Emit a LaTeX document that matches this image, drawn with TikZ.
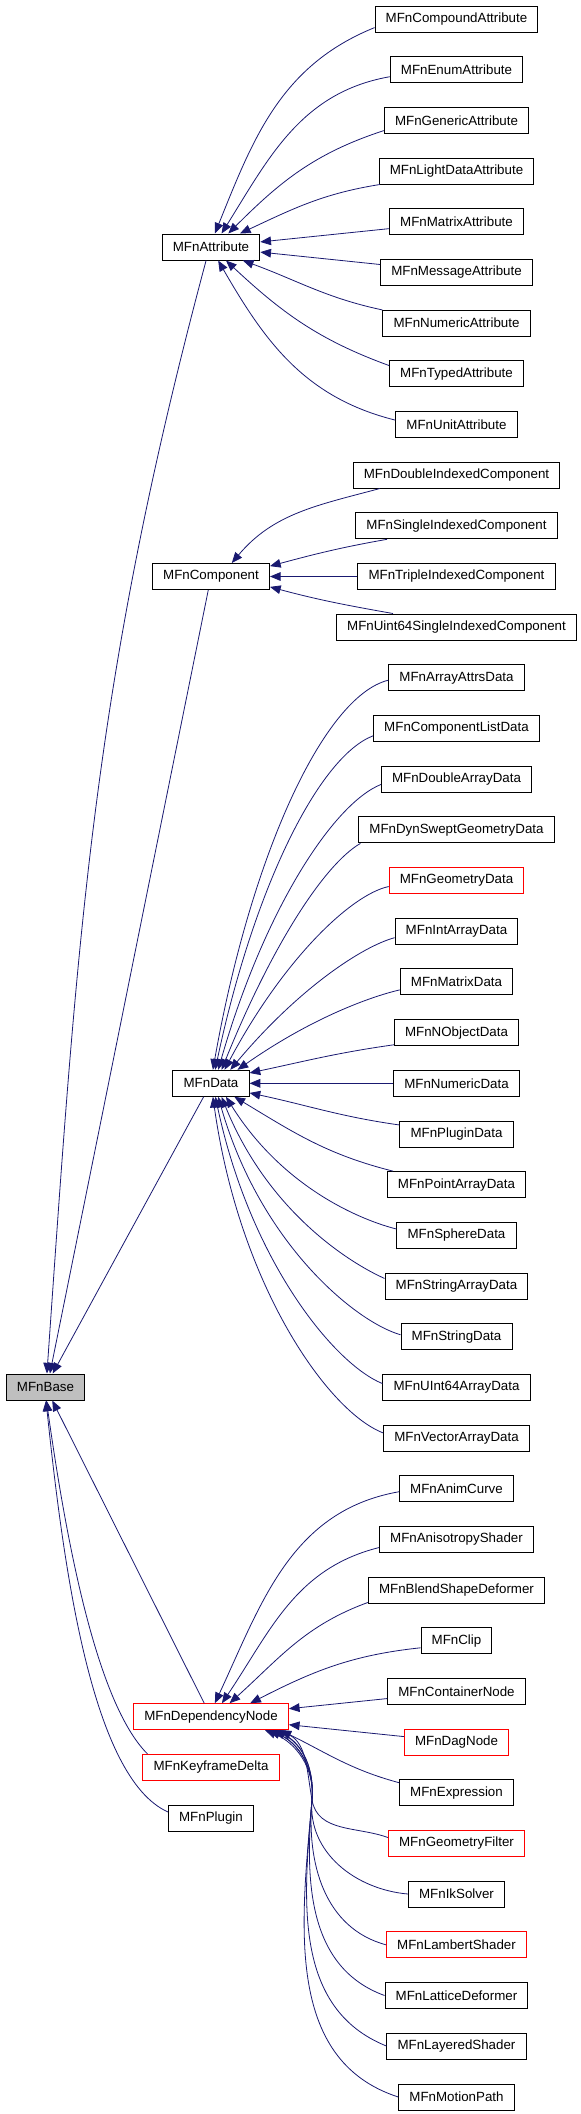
\documentclass[tikz,border=0pt]{standalone}
\usepackage{fontspec}
\setmainfont{Liberation Sans}
\usetikzlibrary{arrows.meta}
\definecolor{midnight}{HTML}{191970}

\begin{document}
\begin{tikzpicture}[x=0.75pt, y=-0.75pt,
  cls/.style={draw=black, line width=0.75pt, fill=white, minimum height=19.5pt, inner xsep=8pt, inner ysep=0pt, font=\fontsize{10pt}{12pt}\selectfont},
  clsred/.style={cls, draw=red},
  clsbase/.style={cls, fill=gray!50},
  inh/.style={draw=midnight, line width=0.6pt, -{Triangle[length=8pt, width=6.5pt]}},
  fan/.style={out looseness=0.4, in looseness=1.3}]
\node[clsbase] (base) at (45.5,1387) {MFnBase};
\node[cls] (attr) at (211,247) {MFnAttribute};
\node[cls] (comp) at (211,576.5) {MFnComponent};
\node[cls] (data) at (211,1083.3) {MFnData};
\node[clsred] (depnode) at (211,1716.7) {MFnDependencyNode};
\node[clsred] (kfdelta) at (211,1767.4) {MFnKeyframeDelta};
\node[cls] (plugin) at (211,1818) {MFnPlugin};
\node[cls] (cmpdattr) at (456.5,19) {MFnCompoundAttribute};
\node[cls] (enumattr) at (456.5,69.7) {MFnEnumAttribute};
\node[cls] (genattr) at (456.5,120.4) {MFnGenericAttribute};
\node[cls] (lightattr) at (456.5,171) {MFnLightDataAttribute};
\node[cls] (matattr) at (456.5,221.7) {MFnMatrixAttribute};
\node[cls] (msgattr) at (456.5,272.4) {MFnMessageAttribute};
\node[cls] (numattr) at (456.5,323) {MFnNumericAttribute};
\node[cls] (typedattr) at (456.5,373.8) {MFnTypedAttribute};
\node[cls] (unitattr) at (456.5,424.4) {MFnUnitAttribute};
\node[cls] (dblidx) at (456.5,475) {MFnDoubleIndexedComponent};
\node[cls] (sglidx) at (456.5,525.8) {MFnSingleIndexedComponent};
\node[cls] (triidx) at (456.5,576.5) {MFnTripleIndexedComponent};
\node[cls] (u64idx) at (456.5,627) {MFnUint64SingleIndexedComponent};
\node[cls] (arrattrs) at (456.5,677.8) {MFnArrayAttrsData};
\node[cls] (complist) at (456.5,728.5) {MFnComponentListData};
\node[cls] (dblarr) at (456.5,779.2) {MFnDoubleArrayData};
\node[cls] (dynswept) at (456.5,829.9) {MFnDynSweptGeometryData};
\node[clsred] (geodata) at (456.5,880.6) {MFnGeometryData};
\node[cls] (intarr) at (456.5,931.2) {MFnIntArrayData};
\node[cls] (matdata) at (456.5,981.9) {MFnMatrixData};
\node[cls] (nobj) at (456.5,1032.6) {MFnNObjectData};
\node[cls] (numdata) at (456.5,1083.3) {MFnNumericData};
\node[cls] (plugdata) at (456.5,1134) {MFnPluginData};
\node[cls] (ptarr) at (456.5,1184.6) {MFnPointArrayData};
\node[cls] (sphere) at (456.5,1235.3) {MFnSphereData};
\node[cls] (strarr) at (456.5,1286) {MFnStringArrayData};
\node[cls] (strdata) at (456.5,1336.7) {MFnStringData};
\node[cls] (u64arr) at (456.5,1387.4) {MFnUInt64ArrayData};
\node[cls] (vecarr) at (456.5,1438) {MFnVectorArrayData};
\node[cls] (animcurve) at (456.5,1488.7) {MFnAnimCurve};
\node[cls] (aniso) at (456.5,1539.4) {MFnAnisotropyShader};
\node[cls] (blendshape) at (456.5,1590) {MFnBlendShapeDeformer};
\node[cls] (clip) at (456.5,1640.8) {MFnClip};
\node[cls] (container) at (456.5,1691.4) {MFnContainerNode};
\node[clsred] (dagnode) at (456.5,1742) {MFnDagNode};
\node[cls] (expr) at (456.5,1792.8) {MFnExpression};
\node[clsred] (geofilter) at (456.5,1843.5) {MFnGeometryFilter};
\node[cls] (iksolver) at (456.5,1894) {MFnIkSolver};
\node[clsred] (lambert) at (456.5,1944.8) {MFnLambertShader};
\node[cls] (lattice) at (456.5,1995.5) {MFnLatticeDeformer};
\node[cls] (layered) at (456.5,2046) {MFnLayeredShader};
\node[cls] (motionpath) at (456.5,2097) {MFnMotionPath};
\coordinate (bundle) at (312,1800);
\draw[inh] (attr.-110) to[out=255, in=86] (base.84);
\draw[inh] (comp) -- (base.72);
\draw[inh] (data) -- (base.62);
\draw[inh] (depnode) -- (base);
\draw[inh] (kfdelta.168) to[out=135, in=-82, out looseness=0.5] (base.-86);
\draw[inh] (plugin.172) to[out=156, in=-84, out looseness=0.5] (base.-88);
\draw[inh] (cmpdattr.186) to[out=202, in=68] (attr.74);
\draw[inh] (enumattr.186) to[out=190, in=58] (attr.52);
\draw[inh] (genattr.188) to[out=198, in=45] (attr.38);
\draw[inh] (lightattr.190) to[out=189, in=25] (attr.25);
\draw[inh] (matattr) -- (attr);
\draw[inh] (msgattr) -- (attr);
\draw[inh] (numattr.170) to[out=168, in=-20] (attr.-23);
\draw[inh] (typedattr.173) to[out=160, in=-43] (attr.-42);
\draw[inh] (unitattr.176) to[out=166, in=-60] (attr.-62);
\draw[inh] (dblidx.190) to[out=195, in=50] (comp.33);
\draw[inh] (sglidx.191) to[out=190, in=15] (comp.10);
\draw[inh] (triidx) -- (comp);
\draw[inh] (u64idx.168) to[out=170, in=-15] (comp.-10);
\draw[inh] (arrattrs.182) to[out=194, in=80, fan] (data.82);
\draw[inh] (complist.185) to[out=201, in=78, fan] (data.73);
\draw[inh] (dblarr.184) to[out=202, in=74, fan] (data.62);
\draw[inh] (dynswept.188) to[out=210, in=68, fan] (data.52);
\draw[inh] (geodata.185) to[out=192, in=62, fan] (data.45);
\draw[inh] (intarr.186) to[out=195, in=50, fan] (data.35);
\draw[inh] (matdata.188) to[out=193, in=35, fan] (data.27);
\draw[inh] (nobj.191) to[out=188, in=12] (data.15);
\draw[inh] (numdata) -- (data);
\draw[inh] (plugdata.171) to[out=172, in=-12] (data.-14);
\draw[inh] (ptarr.168) to[out=166, in=-31] (data.-30);
\draw[inh] (sphere.174) to[out=166, in=-58, fan] (data.-42);
\draw[inh] (strarr.174) to[out=156, in=-68, fan] (data.-52);
\draw[inh] (strdata.178) to[out=164, in=-74, fan] (data.-62);
\draw[inh] (u64arr.177) to[out=158, in=-78, fan] (data.-72);
\draw[inh] (vecarr.176) to[out=159, in=-82, fan] (data.-82);
\draw[inh] (animcurve.183) to[out=190, in=65] (depnode.74);
\draw[inh] (aniso.186) to[out=194, in=56] (depnode.51);
\draw[inh] (blendshape.188) to[out=200, in=42] (depnode.36);
\draw[inh] (clip.191) to[out=186, in=27] (depnode.19);
\draw[inh] (container) -- (depnode);
\draw[inh] (dagnode) -- (depnode);
\draw[inh] (expr.170) to[out=165, in=-26] (depnode.-11);
\draw[inh] (geofilter.175) to[out=160, in=-80] (bundle) to[out=100, in=-28] (depnode.-11.5);
\draw[inh] (iksolver.180) to[out=175, in=-95] (bundle) to[out=85, in=-26] (depnode.-12);
\draw[inh] (lambert.180) to[out=165, in=-95] (bundle) to[out=85, in=-25] (depnode.-12.5);
\draw[inh] (lattice.180) to[out=160, in=-95] (bundle) to[out=85, in=-24] (depnode.-13);
\draw[inh] (layered.180) to[out=158, in=-95] (bundle) to[out=85, in=-23] (depnode.-13.5);
\draw[inh] (motionpath.180) to[out=162, in=-95] (bundle) to[out=85, in=-22] (depnode.-14);
\path (0,0) rectangle (581,2114);
\end{tikzpicture}
\end{document}
